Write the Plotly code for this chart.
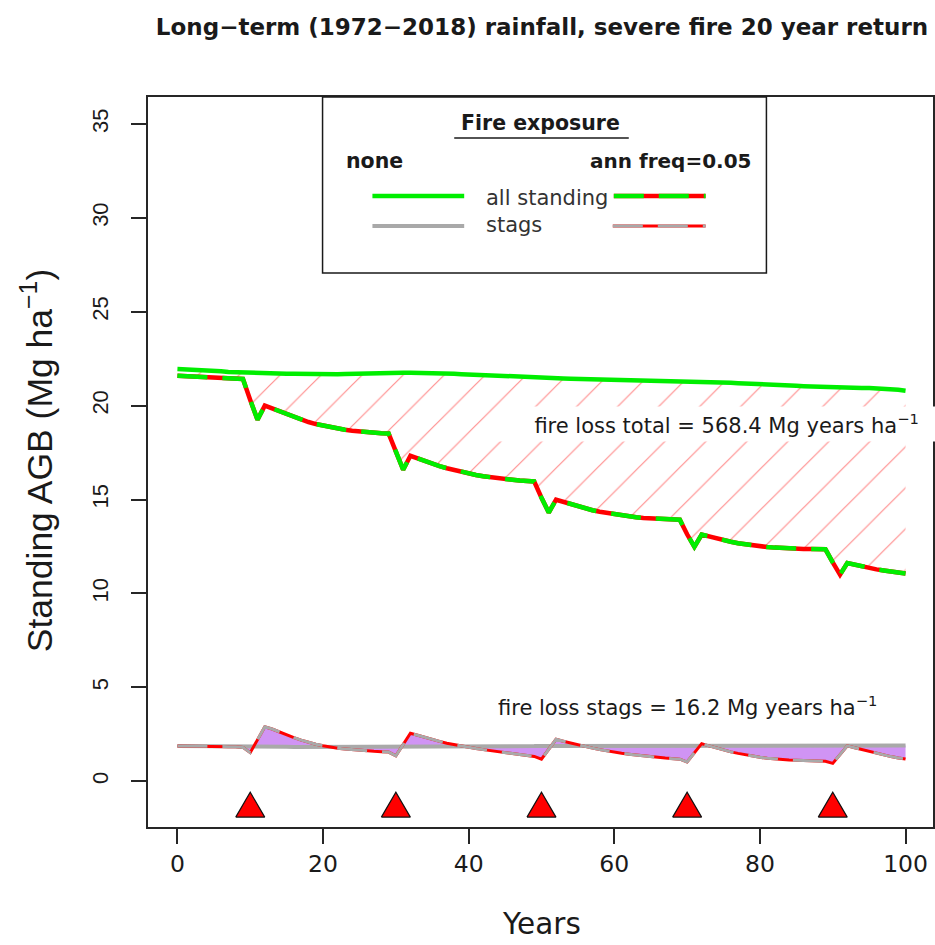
import plotly.graph_objects as go

# ---- simulated standing above-ground biomass (Mg/ha), annual steps ----
years = list(range(0, 101))

total_nofire = [
    21.95, 21.94, 21.92, 21.90, 21.88, 21.85, 21.83, 21.80, 21.78, 21.76,
    21.75, 21.74, 21.73, 21.72, 21.71, 21.70, 21.70, 21.69, 21.69, 21.68,
    21.68, 21.68, 21.68, 21.69, 21.69, 21.70, 21.70, 21.71, 21.72, 21.73,
    21.74, 21.75, 21.76, 21.76, 21.76, 21.75, 21.74, 21.72, 21.70, 21.68,
    21.66, 21.64, 21.62, 21.60, 21.58, 21.56, 21.54, 21.52, 21.50, 21.49,
    21.48, 21.47, 21.46, 21.45, 21.44, 21.43, 21.42, 21.41, 21.40, 21.40,
    21.40, 21.40, 21.40, 21.39, 21.38, 21.37, 21.36, 21.35, 21.34, 21.33,
    21.32, 21.32, 21.30, 21.28, 21.26, 21.24, 21.22, 21.20, 21.19, 21.18,
    21.16, 21.14, 21.12, 21.10, 21.08, 21.06, 21.04, 21.02, 21.00, 20.98,
    20.96, 20.95, 20.94, 20.94, 20.94, 20.94, 20.93, 20.91, 20.88, 20.85,
    20.80,
]

total_fire = [
    21.60, 21.58, 21.56, 21.54, 21.52, 21.50, 21.48, 21.46, 21.44, 21.42,
    20.30, 19.25, 20.00, 19.85, 19.68, 19.52, 19.38, 19.25, 19.13, 19.02,
    18.93, 18.85, 18.78, 18.72, 18.67, 18.62, 18.58, 18.55, 18.53, 18.52,
    17.55, 16.59, 17.33, 17.18, 17.03, 16.90, 16.78, 16.67, 16.57, 16.47,
    16.38, 16.31, 16.24, 16.18, 16.13, 16.09, 16.05, 16.01, 15.98, 15.96,
    15.10, 14.31, 14.99, 14.87, 14.75, 14.63, 14.52, 14.43, 14.35, 14.28,
    14.22, 14.16, 14.11, 14.06, 14.02, 13.99, 13.97, 13.95, 13.94, 13.93,
    13.15, 12.48, 13.13, 13.02, 12.92, 12.83, 12.75, 12.67, 12.61, 12.56,
    12.51, 12.47, 12.44, 12.41, 12.39, 12.38, 12.37, 12.36, 12.36, 12.35,
    11.65, 11.00, 11.62, 11.52, 11.43, 11.35, 11.28, 11.22, 11.16, 11.11,
    11.06,
]

stags_nofire = [
    1.88, 1.88, 1.87, 1.87, 1.86, 1.86, 1.85, 1.85, 1.84, 1.84,
    1.84, 1.84, 1.83, 1.83, 1.83, 1.83, 1.82, 1.82, 1.82, 1.82,
    1.82, 1.82, 1.82, 1.82, 1.82, 1.82, 1.82, 1.83, 1.83, 1.83,
    1.83, 1.83, 1.84, 1.84, 1.84, 1.84, 1.85, 1.85, 1.85, 1.85,
    1.86, 1.86, 1.86, 1.86, 1.86, 1.87, 1.87, 1.87, 1.87, 1.87,
    1.88, 1.88, 1.88, 1.88, 1.88, 1.88, 1.89, 1.89, 1.89, 1.89,
    1.89, 1.89, 1.90, 1.90, 1.90, 1.90, 1.90, 1.90, 1.90, 1.90,
    1.91, 1.91, 1.91, 1.91, 1.91, 1.91, 1.91, 1.91, 1.91, 1.91,
    1.91, 1.91, 1.91, 1.91, 1.91, 1.91, 1.91, 1.91, 1.91, 1.91,
    1.91, 1.91, 1.91, 1.91, 1.91, 1.91, 1.90, 1.90, 1.90, 1.90,
    1.90,
]

stags_fire = [
    1.88, 1.88, 1.87, 1.87, 1.86, 1.86, 1.85, 1.84, 1.83, 1.80,
    1.52, 2.20, 2.90, 2.78, 2.62, 2.46, 2.32, 2.19, 2.07, 1.97,
    1.89, 1.82, 1.76, 1.72, 1.68, 1.65, 1.62, 1.59, 1.57, 1.55,
    1.35, 1.95, 2.55, 2.45, 2.33, 2.22, 2.12, 2.02, 1.94, 1.86,
    1.80, 1.74, 1.68, 1.62, 1.57, 1.52, 1.47, 1.42, 1.37, 1.32,
    1.17, 1.70, 2.23, 2.13, 2.03, 1.95, 1.84, 1.76, 1.68, 1.61,
    1.55, 1.49, 1.44, 1.39, 1.34, 1.30, 1.27, 1.23, 1.20, 1.17,
    1.02, 1.50, 2.00, 1.88, 1.76, 1.66, 1.56, 1.48, 1.40, 1.33,
    1.27, 1.22, 1.18, 1.15, 1.13, 1.11, 1.10, 1.09, 1.08, 1.06,
    0.95, 1.40, 1.88, 1.78, 1.68, 1.58, 1.48, 1.39, 1.31, 1.24,
    1.18,
]

fire_years = [10, 30, 50, 70, 90]
fire_marker_y = -1.47

x_ticks = [0, 20, 40, 60, 80, 100]
y_ticks = [0, 5, 10, 15, 20, 25, 30, 35]

loss_total = 568.4
loss_stags = 16.2

# ---- styling ----
GREEN = "#00EE00"
RED = "#FF0000"
GREY = "#A9A9A9"
PURPLE = "rgba(170,60,235,0.55)"
HATCH = "rgba(255,100,100,0.75)"
INK = "#1a1a1a"
AXIS = "#262626"
DASH = "30px,15px"

W, H = 935, 945
ML, MR, MT, MB = 148, 0, 97, 118
PW, PH = W - ML - MR, H - MT - MB


def px(x):
    return (x - ML) / PW


def py(y):
    return (H - MB - y) / PH


fig = go.Figure()

# hatched band: loss of total standing biomass
fig.add_trace(go.Scatter(x=years, y=total_nofire, mode="lines",
                         line=dict(width=0), hoverinfo="skip"))
fig.add_trace(go.Scatter(x=years, y=total_fire, mode="lines", line=dict(width=0),
                         fill="tonexty", fillcolor="rgba(0,0,0,0)",
                         fillpattern=dict(shape="/", fgcolor=HATCH,
                                          bgcolor="rgba(0,0,0,0)", size=29,
                                          solidity=0.04, fillmode="replace"),
                         hoverinfo="skip"))

# shaded band: stag difference
fig.add_trace(go.Scatter(x=years, y=stags_nofire, mode="lines",
                         line=dict(width=0), hoverinfo="skip"))
fig.add_trace(go.Scatter(x=years, y=stags_fire, mode="lines", line=dict(width=0),
                         fill="tonexty", fillcolor=PURPLE, hoverinfo="skip"))

# no-fire lines
fig.add_trace(go.Scatter(x=years, y=total_nofire, mode="lines",
                         line=dict(color=GREEN, width=4.5)))
fig.add_trace(go.Scatter(x=years, y=stags_nofire, mode="lines",
                         line=dict(color=GREY, width=4)))

# fire lines: red base with dashed overlay
fig.add_trace(go.Scatter(x=years, y=total_fire, mode="lines",
                         line=dict(color=RED, width=4.5)))
fig.add_trace(go.Scatter(x=years, y=total_fire, mode="lines",
                         line=dict(color=GREEN, width=4.5, dash=DASH)))
fig.add_trace(go.Scatter(x=years, y=stags_fire, mode="lines",
                         line=dict(color=RED, width=3)))
fig.add_trace(go.Scatter(x=years, y=stags_fire, mode="lines",
                         line=dict(color=GREY, width=3, dash=DASH)))

# fire events: red triangles (half width in years, height in Mg/ha)
tri_hw, tri_h = 1.99, 1.33
tx, ty = [], []
for fy in fire_years:
    base = fire_marker_y - tri_h / 3
    apex = fire_marker_y + 2 * tri_h / 3
    tx += [fy - tri_hw, fy + tri_hw, fy, fy - tri_hw, None]
    ty += [base, base, apex, base, None]
fig.add_trace(go.Scatter(x=tx, y=ty, mode="lines", fill="toself",
                         fillcolor=RED, line=dict(color="#111111", width=1.2),
                         hoverinfo="skip"))


def note(text, x, y, size, bold=False, family="DejaVu Sans", color=INK,
         xanchor="center", **kw):
    return dict(x=px(x), y=py(y), xref="paper", yref="paper", text=text,
                showarrow=False, xanchor=xanchor, yanchor="middle",
                font=dict(family=family, size=size, color=color,
                          weight="bold" if bold else "normal"), **kw)


# ---- annotations ----
annotations = [
    dict(x=75, y=19, xref="x", yref="y", xanchor="center", yanchor="middle",
         text="\u00a0\u00a0\u00a0\u00a0\u00a0fire loss total = %.1f Mg years ha<sup>\u22121</sup>\u00a0\u00a0\u00a0\u00a0" % loss_total,
         showarrow=False, bgcolor="white", borderpad=3,
         font=dict(family="DejaVu Sans", size=21, color=INK)),
    dict(x=70, y=4, xref="x", yref="y", xanchor="center", yanchor="middle",
         text="fire loss stags = %.1f Mg years ha<sup>\u22121</sup>" % loss_stags,
         showarrow=False,
         font=dict(family="DejaVu Sans", size=21, color=INK)),
    # axis titles
    note("Standing AGB (Mg ha<sup>\u22121</sup>)", 37, 460, 35.5,
         family="Liberation Sans", textangle=-90),
    note("Years", 543, 924, 29.5),
    # legend texts
    note("Fire exposure", 542, 123, 20.5, bold=True),
    note("none", 375, 161, 20.5, bold=True),
    note("ann freq=0.05", 672, 161, 20, bold=True),
    note("all standing", 485, 198, 21, color="#333333", xanchor="left"),
    note("stags", 485, 225, 21, color="#333333", xanchor="left"),
]

# ---- legend frame and sample lines ----
shapes = [
    dict(type="rect", xref="paper", yref="paper", x0=px(323), x1=px(768),
         y0=py(273), y1=1, fillcolor="white", line=dict(color=INK, width=1.5),
         layer="above"),
    dict(type="line", xref="paper", yref="paper", x0=px(455), x1=px(630),
         y0=py(138), y1=py(138), line=dict(color=INK, width=1.6), layer="above"),
    dict(type="line", xref="paper", yref="paper", x0=px(373), x1=px(465),
         y0=py(196), y1=py(196), line=dict(color=GREEN, width=4.5), layer="above"),
    dict(type="line", xref="paper", yref="paper", x0=px(373), x1=px(465),
         y0=py(226), y1=py(226), line=dict(color=GREY, width=4), layer="above"),
    dict(type="line", xref="paper", yref="paper", x0=px(615), x1=px(707),
         y0=py(196), y1=py(196), line=dict(color=RED, width=4.5), layer="above"),
    dict(type="line", xref="paper", yref="paper", x0=px(615), x1=px(707),
         y0=py(196), y1=py(196), line=dict(color=GREEN, width=4.5, dash=DASH),
         layer="above"),
    dict(type="line", xref="paper", yref="paper", x0=px(614), x1=px(707),
         y0=py(226), y1=py(226), line=dict(color=RED, width=3), layer="above"),
    dict(type="line", xref="paper", yref="paper", x0=px(614), x1=px(707),
         y0=py(226), y1=py(226), line=dict(color=GREY, width=3, dash=DASH),
         layer="above"),
]

fig.update_layout(
    width=W, height=H,
    margin=dict(l=ML, r=MR, t=MT, b=MB),
    plot_bgcolor="white", paper_bgcolor="white",
    showlegend=False,
    title=dict(text="Long\u2212term (1972\u22122018) rainfall, severe fire 20 year return",
               x=542 / W, xanchor="center", xref="container",
               y=1 - 27 / H, yanchor="middle", yref="container",
               font=dict(family="DejaVu Sans", size=23, color=INK, weight="bold")),
    annotations=annotations,
    shapes=shapes,
)

fig.update_xaxes(range=[-4.04, 103.77], tickmode="array", tickvals=x_ticks,
                 ticktext=[str(v) for v in x_ticks],
                 ticks="outside", ticklen=15, tickwidth=1.5, tickcolor=AXIS,
                 showline=True, linecolor=AXIS, linewidth=1.8, mirror=True,
                 showgrid=False, zeroline=False, ticklabelstandoff=0,
                 tickfont=dict(family="DejaVu Sans", size=23.5, color=INK))
fig.update_yaxes(range=[-2.44, 36.44], tickmode="array", tickvals=y_ticks,
                 ticktext=[str(v) for v in y_ticks], tickangle=-90,
                 ticks="outside", ticklen=15, tickwidth=1.5, tickcolor=AXIS,
                 showline=True, linecolor=AXIS, linewidth=1.8, mirror=True,
                 showgrid=False, zeroline=False, ticklabelstandoff=14,
                 tickfont=dict(family="Liberation Sans", size=22, color=INK))

fig.write_html("out.html")
